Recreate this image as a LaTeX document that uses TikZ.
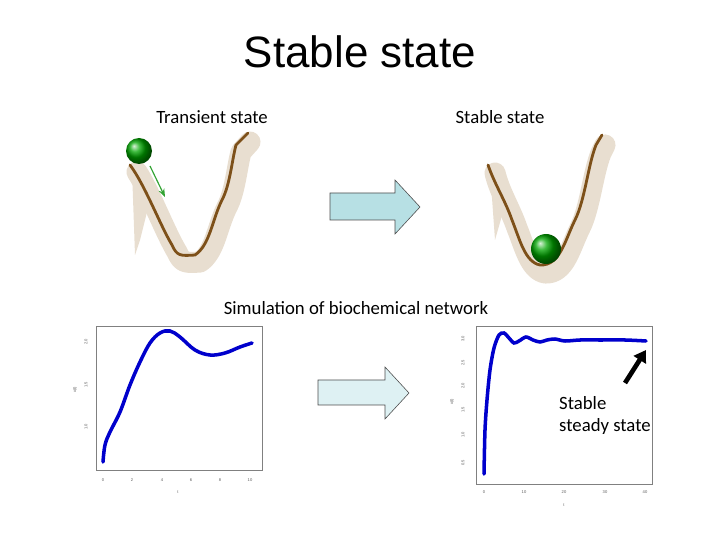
\documentclass[tikz,border=0pt]{standalone}
\usepackage{fontspec}
\setmainfont{Carlito}
\newfontfamily\arial{Liberation Sans}
\usetikzlibrary{arrows.meta,shadings}
\definecolor{beige}{RGB}{232,222,208}
\definecolor{brownline}{RGB}{125,80,25}
\begin{document}
\begin{tikzpicture}[x=0.03cm,y=-0.03cm,
  lbl/.style={font=\fontsize{16}{19}\selectfont, inner sep=0},
  tick/.style={font=\arial\fontsize{3.5}{4}\selectfont, inner sep=0, text=gray!70!black},
  blockarrow/.style={draw=black!70, line width=0.5pt},
  curve/.style={draw=blue!80!black, line width=3pt, line cap=round},
  valley/.style={draw=brownline, line width=2.4pt, line cap=round},
  band/.style={draw=beige, line width=18pt, line cap=round, line join=round},
  ball/.style={ball color=green!65!black}]
\useasboundingbox (0,0) rectangle (720,540);
\node[font=\arial\fontsize{37.5}{42}\selectfont] (title) at (360,52) {Stable state};
\node[lbl] (tl) at (212,117) {Transient state};
\node[lbl] (tr) at (500,117) {Stable state};
\node[lbl] (sim) at (356,308) {Simulation of biochemical network};
% left valley
\begin{scope}[shift={(5,7)}]
\draw[band] (132,165) .. controls (145,185) and (160,225) .. (172,245) .. controls (177,256) and (180,256) .. (195,255) .. controls (210,245) and (212,220) .. (222,200) .. controls (230,185) and (232,160) .. (236,145) -- (245,135);
\end{scope}
\fill[beige] (132,170) -- (150,200) -- (140,240) -- (135,255) -- cycle;
\draw[valley] (130,165) .. controls (145,185) and (160,225) .. (172,245) .. controls (177,256) and (180,256) .. (195,255) .. controls (210,245) and (212,220) .. (222,200) .. controls (230,185) and (232,160) .. (236,145) -- (248,133);
\shade[ball] (139,151) circle (13);
\coordinate (b1s) at (150,166);
\coordinate (b1e) at (165,197);
\draw[-{Stealth[length=7pt]}, green!55!black!80, line width=1pt] (b1s) -- (b1e);
% right valley
\begin{scope}[shift={(5,8)}]
\draw[band] (490,165) .. controls (495,185) and (505,200) .. (512,220) .. controls (520,240) and (525,262) .. (540,265) .. controls (560,266) and (565,240) .. (575,220) .. controls (585,200) and (588,165) .. (596,145) -- (600,137);
\end{scope}
\fill[beige] (490,170) -- (505,205) -- (495,240) -- cycle;
\draw[valley] (488,165) .. controls (495,185) and (505,200) .. (512,220) .. controls (520,240) and (525,262) .. (540,265) .. controls (560,266) and (565,240) .. (575,220) .. controls (585,200) and (588,165) .. (596,145) -- (602,135);
\shade[ball] (546,249) circle (15);
% block arrows
\filldraw[blockarrow, fill={rgb,255:red,183;green,224;blue,228}] (330,193) -- (395,193) -- (395,180) -- (420,207) -- (395,234) -- (395,220) -- (330,220) -- cycle;
\filldraw[blockarrow, fill={rgb,255:red,222;green,241;blue,243}] (318,380) -- (385,380) -- (385,367) -- (409,393) -- (385,419) -- (385,405) -- (318,405) -- cycle;
% left plot
\draw[gray, line width=0.4pt] (96,326) rectangle (262,470);
\foreach \x/\t in {103/0,132/2,162/4,191/6,220/8,250/10}
  \node[tick] at (\x,480) {\t};
\foreach \y/\t in {342/2.0,385/1.5,427/1.0}
  \node[tick, rotate=90] at (86,\y) {\t};
\node[tick, rotate=90] at (75,390) {x(t)};
\node[tick] at (178,492) {t};
\draw[curve] plot[smooth, tension=0.6] coordinates {(103,462)(105,445)(110,432)(120,412)(130,385)(140,362)(150,343)(160,333)(170,331)(180,337)(195,350)(210,355)(225,353)(240,347)(252,343)};
% right plot
\draw[gray, line width=0.4pt] (476,326) rectangle (652,484);
\foreach \x/\t in {484/0,524/10,564/20,605/30,645/40}
  \node[tick] at (\x,492) {\t};
\foreach \y/\t in {339/3.0,363/2.5,386/2.0,410/1.5,435/1.0,463/0.5}
  \node[tick, rotate=90] at (463,\y) {\t};
\node[tick, rotate=90] at (452,402) {x(t)};
\node[tick] at (564,505) {t};
\draw[curve] plot[smooth, tension=0.5] coordinates {(484,474)(485,430)(487,400)(490,370)(494,348)(499,335)(504,333)(509,338)(514,343)(519,341)(526,337)(533,340)(540,342)(547,340)(555,339)(565,341)(580,340)(600,340)(625,340)(646,341)};
\node[lbl, align=left, anchor=north west] (ss) at (559,396) {Stable\\steady state};
\coordinate (ah) at (646,350);
\coordinate (at) at (625,383);
\draw[-{Triangle[length=10pt,width=12pt]}, line width=4pt] (at) -- (ah);
\end{tikzpicture}
\end{document}
